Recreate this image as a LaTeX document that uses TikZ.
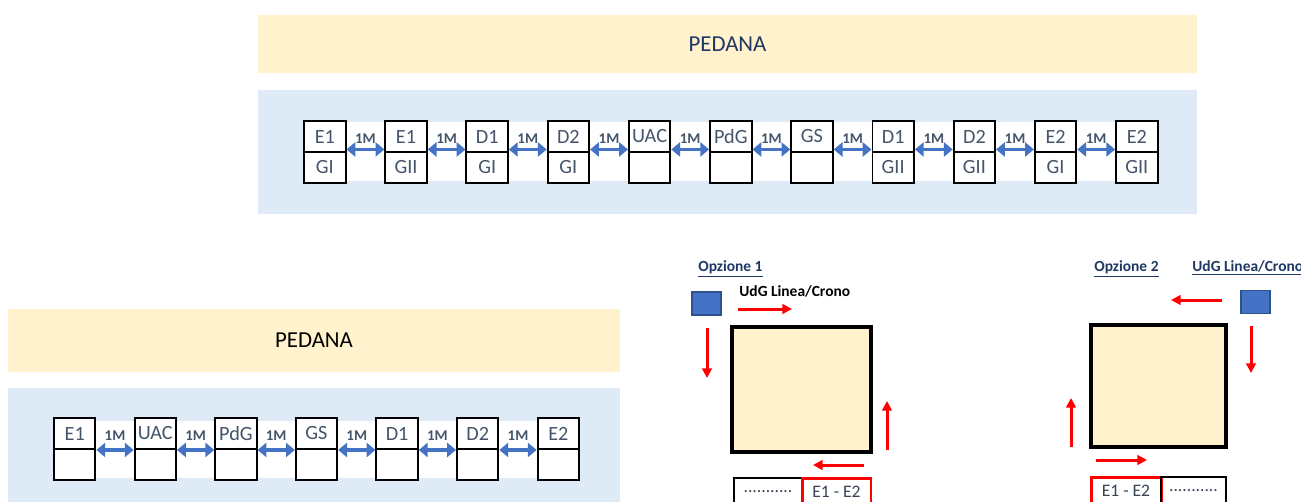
\documentclass[tikz,border=0pt]{standalone}
\usepackage{fontspec}
\setmainfont{Carlito}
\usetikzlibrary{arrows.meta}
\definecolor{crema}{HTML}{FFF2CC}
\definecolor{celeste}{HTML}{DEEBF7}
\definecolor{bluefreccia}{HTML}{4472C4}
\definecolor{grigioblu}{HTML}{44546A}
\definecolor{bluscuro}{HTML}{1F3864}
\definecolor{bordoudg}{HTML}{2F528F}
\begin{document}
\begin{tikzpicture}[x=0.02cm,y=-0.02cm,
  banda/.style={fill=crema,minimum width=12.24cm,minimum height=1.26cm,inner sep=0pt,font=\fontsize{13}{15}\selectfont},
  cella/.style={draw,line width=1.1pt,fill=white,minimum width=0.83cm,minimum height=0.62cm,inner sep=0pt,text=grigioblu,font=\fontsize{11.5}{13}\selectfont},
  doppia/.style={{Triangle[length=5pt,width=8pt]}-{Triangle[length=5pt,width=8pt]},line width=2.1pt,bluefreccia},
  metro/.style={midway,text=grigioblu,font=\bfseries\fontsize{8.5}{9}\selectfont},
  rossa/.style={-{Triangle[length=5.5pt,width=5.5pt]},line width=1.7pt,red},
  udg/.style={fill=bluefreccia,draw=bordoudg,line width=0.6pt,minimum width=0.58cm,minimum height=0.46cm,inner sep=0pt},
  campo/.style={fill=crema,draw,line width=2.3pt,inner sep=0pt},
  tabella/.style={draw,line width=0.6pt,minimum height=0.56cm,inner sep=0pt,text=grigioblu!80!black,font=\fontsize{10}{11}\selectfont},
  titolo/.style={anchor=base west,inner sep=0pt,font=\bfseries\fontsize{8.8}{10}\selectfont}]
  \useasboundingbox (0,0) rectangle (1301,501);
  \clip (0,0) rectangle (1301,501);

  % pedana, schema completo
  \node[banda,minimum width=18.78cm,minimum height=1.16cm,text=bluscuro] (pedana1) at (727.5,44) {PEDANA};
  \fill[celeste] (258,90) rectangle (1197,214);
  \fill[white] (304,122) rectangle (1157,181);
  \foreach \a/\b [count=\i from 0] in {E1/GI,E1/GII,D1/GI,D2/GI,UAC/{},PdG/{},GS/{},D1/GII,D2/GII,E2/GI,E2/GII} {
    \node[cella] (s\i) at (324.8+81.2*\i,136.5) {\a};
    \node[cella] (g\i) at (324.8+81.2*\i,167.5) {\b};
  }
  \foreach \i [count=\j] in {0,...,9}
    \draw[doppia] ([yshift=0.07cm]s\i.south east) -- ([yshift=0.07cm]s\j.south west) node[metro,yshift=0.21cm] {1M};

  % pedana, schema ridotto
  \node[banda] (pedana2) at (314,340) {PEDANA};
  \fill[celeste] (8,388) rectangle (620,510);
  \fill[white] (54,421) rectangle (579,478);
  \foreach \a [count=\i from 0] in {E1,UAC,PdG,GS,D1,D2,E2} {
    \node[cella] (t\i) at (74.7+80.6*\i,433.5) {\a};
    \node[cella] (b\i) at (74.7+80.6*\i,464.5) {};
  }
  \foreach \i [count=\j] in {0,...,5}
    \draw[doppia] (t\i.south east) -- (t\j.south west) node[metro,yshift=0.28cm] {1M};

  % opzione 1
  \node[titolo,text=bluscuro] (opz1) at (698,271) {\underline{Opzione 1}};
  \node[titolo] (lin1) at (739,296) {UdG Linea/Crono};
  \node[udg] (udg1) at (706.5,303.5) {};
  \node[campo,minimum width=2.78cm,minimum height=2.5cm] (campo1) at (801.5,389.5) {};
  \draw[rossa] (738,309) -- (792,309);
  \draw[rossa] (707,328) -- (707,378);
  \draw[rossa] (887,450) -- (887,401);
  \draw[rossa] (864,465) -- (813,465);
  \node[tabella,minimum width=1.36cm] (punti1) at (768,492) {...........};
  \node[tabella,draw=red,line width=1.7pt,minimum width=1.38cm] (ee1) at (836.5,492) {E1 - E2};

  % opzione 2
  \node[titolo,text=bluscuro] (opz2) at (1094,271) {\underline{Opzione 2}};
  \node[titolo,text=bluscuro] (lin2) at (1192,271) {\underline{UdG Linea/Crono}};
  \node[udg] (udg2) at (1255.5,302) {};
  \node[campo,minimum width=2.7cm,minimum height=2.44cm] (campo2) at (1158.5,386) {};
  \draw[rossa] (1222,300) -- (1171,300);
  \draw[rossa] (1251,326) -- (1251,373);
  \draw[rossa] (1071,447) -- (1071,398);
  \draw[rossa] (1096,460) -- (1147,460);
  \node[tabella,draw=red,line width=1.7pt,minimum width=1.4cm] (ee2) at (1126,491) {E1 - E2};
  \node[tabella,minimum width=1.3cm] (punti2) at (1193.5,491) {...........};
\end{tikzpicture}
\end{document}
